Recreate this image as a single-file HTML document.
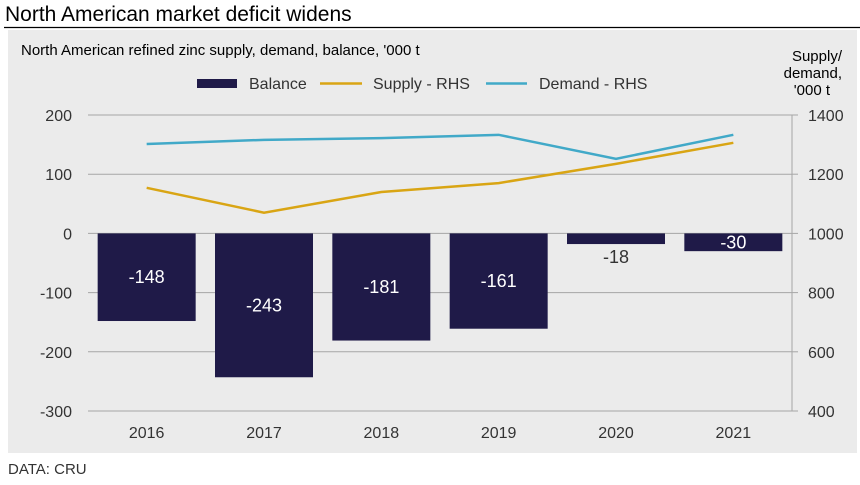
<!DOCTYPE html>
<html><head><meta charset="utf-8">
<style>
body{margin:0;background:#fff;font-family:"Liberation Sans",Arial,sans-serif;}
</style></head>
<body>
<svg width="860" height="480" xmlns="http://www.w3.org/2000/svg" font-family="Liberation Sans, Arial, sans-serif">
<text x="5" y="21" font-size="21" fill="#000">North American market deficit widens</text>
<line x1="4" y1="27.5" x2="860" y2="27.5" stroke="#000" stroke-width="1.3"/>
<rect x="8" y="30" width="849" height="423" fill="#ebebeb"/>
<text x="21" y="55" font-size="15" fill="#000">North American refined zinc supply, demand, balance, '000 t</text>
<text font-size="15" text-anchor="end"><tspan x="842" y="61">Supply/</tspan><tspan x="842" dy="17">demand,</tspan><tspan x="830" dy="17">'000 t</tspan></text>
<g>
<rect x="197" y="79" width="40" height="9" fill="#1f1a48"/>
<text x="249" y="89" font-size="16" fill="#333">Balance</text>
<line x1="320" y1="83.5" x2="362" y2="83.5" stroke="#d9a514" stroke-width="2.5"/>
<text x="373" y="89" font-size="16" fill="#333">Supply - RHS</text>
<line x1="486" y1="83.5" x2="527" y2="83.5" stroke="#41a9c8" stroke-width="2.5"/>
<text x="539" y="89" font-size="16" fill="#333">Demand - RHS</text>
</g>
<g id="plot"></g>
<text x="8" y="474" font-size="15" fill="#333">DATA: CRU</text>
</svg>
<script>
const categories=["2016","2017","2018","2019","2020","2021"];
const balance=[-148,-243,-181,-161,-18,-30];
const supply=[1154,1070,1140,1170,1235,1306];
const demand=[1302,1316,1322,1333,1252,1333];
const leftTicks=[200,100,0,-100,-200,-300];
const rightTicks=[1400,1200,1000,800,600,400];
const NS="http://www.w3.org/2000/svg";
const g=document.getElementById('plot');
const X0=88,X1=792,Y0=115,Y1=411;
const yL=v=>Y0+(200-v)/500*(Y1-Y0);
const yR=v=>Y0+(1400-v)/1000*(Y1-Y0);
const bw=(X1-X0)/categories.length;
const xc=i=>X0+bw*(i+0.5);
function el(t,a,txt){const e=document.createElementNS(NS,t);for(const k in a)e.setAttribute(k,a[k]);if(txt!==undefined)e.textContent=txt;g.appendChild(e);return e;}
leftTicks.forEach(v=>{
 const l=el('line',{x1:X0,x2:X1,y1:yL(v),y2:yL(v),stroke:'#a6a6a6','stroke-width':1});
 
 
 const t=el('text',{x:72,y:yL(v)+6,'font-size':16,'text-anchor':'end',fill:'#333'},String(v));
 
 
});
const ax=el('line',{x1:X1,x2:X1,y1:Y0,y2:Y1,stroke:'#a6a6a6','stroke-width':1});


rightTicks.forEach(v=>{
 const l=el('line',{x1:X1,x2:X1+6,y1:yR(v),y2:yR(v),stroke:'#a6a6a6','stroke-width':1});
 
 
 const t=el('text',{x:808,y:yR(v)+6,'font-size':16,fill:'#333'},String(v));
 
 
});
balance.forEach((v,i)=>{
 const y=Math.min(yL(0),yL(v)),h=Math.abs(yL(v)-yL(0));
 const r=el('rect',{x:xc(i)-49,y:y,width:98,height:h,fill:'#1f1a48'});
 
 
 const inside=h>15;
 const ty=inside?yL(0)+h/2+6:yL(v)+19;
 const t=el('text',{x:xc(i),y:ty,'font-size':18,'text-anchor':'middle',fill:inside?'#fff':'#333'},String(v));
 
 
});
categories.forEach((c,i)=>{
 const t=el('text',{x:xc(i),y:438,'font-size':16,'text-anchor':'middle',fill:'#333'},c);
 
 
});
function line(data,color,name){
 const p=el('polyline',{points:data.map((v,i)=>xc(i)+','+yR(v)).join(' '),fill:'none',stroke:color,'stroke-width':2.5});
 
 
}
line(supply,'#d9a514','supply-line');
line(demand,'#41a9c8','demand-line');
</script>
</body></html>
